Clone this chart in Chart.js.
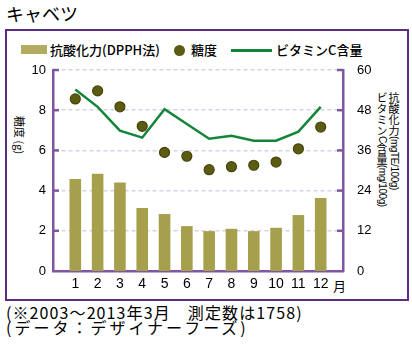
<!DOCTYPE html>
<html><head><meta charset="utf-8">
<script src="https://cdn.jsdelivr.net/npm/chart.js@4"></script>
<style>
html,body{margin:0;padding:0;background:#fff;}
#wrap{position:relative;width:412px;height:350px;overflow:hidden;font-family:"Noto Sans CJK JP","Noto Sans",sans-serif;color:#000;}
.abs{position:absolute;white-space:nowrap;}
#box{left:5px;top:29px;width:404px;height:272px;box-sizing:border-box;border:2px solid #5b2d82;}
#c{position:absolute;left:0;top:0;}
.vt{writing-mode:vertical-rl;text-orientation:mixed;font-size:11px;line-height:11px;}
.nar{font-family:"Liberation Sans Narrow","Liberation Sans",sans-serif;font-size:10px;letter-spacing:-0.4px;}
.lg{font-size:13px;line-height:18px;font-weight:500;}
.fn{font-size:16px;line-height:15px;}
</style></head>
<body><div id="wrap">
<div class="abs" style="left:6px;top:0px;font-size:18px;line-height:26px;">キャベツ</div>
<div id="box" class="abs"></div>
<div class="abs" style="left:21px;top:45px;width:26px;height:9px;background:#b3ab62;"></div>
<div class="abs lg" style="left:50px;top:41px;">抗酸化力(DPPH法)</div>
<div class="abs" style="left:174px;top:45px;width:11px;height:11px;border-radius:50%;background:#5c5b14;"></div>
<div class="abs lg" style="left:191px;top:41px;">糖度</div>
<div class="abs" style="left:231px;top:49px;width:41px;height:3px;background:#13853a;"></div>
<div class="abs lg" style="left:276px;top:41px;">ビタミンC含量</div>
<div class="abs" style="left:14px;top:116px;font-size:11px;line-height:11px;writing-mode:vertical-rl;text-orientation:sideways;">糖度 (g)</div>
<div class="abs vt" style="left:388px;top:92px;">抗酸化力<span class="nar">(mgTE/100g)</span></div>
<div class="abs vt" style="left:376px;top:92px;">ビタミン<span class="nar">C</span>含量<span class="nar">(mg/100g)</span></div>
<div class="abs" style="left:333px;top:278px;font-size:13px;line-height:16px;">月</div>
<div class="abs fn" style="left:6px;top:305px;letter-spacing:1.1px;">(※2003～2013年3月　測定数は1758)</div>
<div class="abs fn" style="left:6px;top:320px;letter-spacing:3px;">(データ：デザイナーフーズ)</div>
<canvas id="c" width="412" height="350"></canvas>
</div>
<script>
const months = ['1','2','3','4','5','6','7','8','9','10','11','12'];
const antioxidant = [27.5, 29.0, 26.4, 18.8, 17.0, 13.4, 11.9, 12.6, 11.9, 12.9, 16.7, 21.8];
const sugar = [8.56, 8.96, 8.17, 7.2, 5.9, 5.71, 5.04, 5.19, 5.26, 5.42, 6.08, 7.16];
const vitaminC = [54.2, 49.0, 41.9, 39.8, 48.3, 43.9, 39.5, 40.4, 38.9, 38.9, 41.6, 49.0];
const sugarAxis = {min: 0, max: 10, step: 2};
const rightAxis = {min: 0, max: 60, step: 12};

const labels = [''].concat(months, ['']);
const pad = arr => [null].concat(arr, [null]);
const AXIS = '#7e57a0';

const innerTicks = {
  id: 'innerTicks',
  afterDraw(chart) {
    const ctx = chart.ctx, a = chart.chartArea;
    const y = chart.scales.y, y2 = chart.scales.y2;
    ctx.save();
    ctx.strokeStyle = AXIS; ctx.lineWidth = 2.5;
    y.ticks.forEach(t => {
      if (t.value === 0) return;
      const p = y.getPixelForValue(t.value);
      ctx.beginPath(); ctx.moveTo(a.left, p); ctx.lineTo(a.left + 6, p); ctx.stroke();
    });
    y2.ticks.forEach(t => {
      if (t.value === 0) return;
      const p = y2.getPixelForValue(t.value);
      ctx.beginPath(); ctx.moveTo(a.right - 6, p); ctx.lineTo(a.right, p); ctx.stroke();
    });
    ctx.restore();
  }
};

new Chart(document.getElementById('c'), {
  data: {
    labels: labels,
    datasets: [
      {type: 'line', label: '糖度', data: pad(sugar), yAxisID: 'y', showLine: false,
       pointRadius: 5, pointBackgroundColor: '#5c5b14', pointBorderColor: '#464508', pointBorderWidth: 1.2, order: 1},
      {type: 'line', label: 'ビタミンC含量', data: pad(vitaminC), yAxisID: 'y2', borderColor: '#13853a',
       borderWidth: 2.5, pointRadius: 0, tension: 0, fill: false, order: 2},
      {type: 'bar', label: '抗酸化力(DPPH法)', data: pad(antioxidant), yAxisID: 'y2', backgroundColor: '#a69f4b',
       barPercentage: 0.52, categoryPercentage: 1, order: 3}
    ]
  },
  options: {
    responsive: false, animation: false,
    layout: {padding: {left: 0, right: 0, top: 70, bottom: 0}},
    plugins: {legend: {display: false}, tooltip: {enabled: false}},
    scales: {
      x: {
        type: 'category', offset: false,
        grid: {display: false, drawTicks: false},
        border: {display: true, color: AXIS, width: 2.5},
        ticks: {autoSkip: false, maxRotation: 0, padding: 5, color: '#000',
                font: {family: "'Liberation Sans Narrow','Liberation Sans',sans-serif", size: 14}},
        afterFit(s) { s.height = 79; }
      },
      y: {
        position: 'left', min: sugarAxis.min, max: sugarAxis.max,
        grid: {color: '#dacfe7', lineWidth: 1.5, drawTicks: false},
        border: {display: true, color: AXIS, width: 2.5, dash: [4, 3]},
        ticks: {stepSize: sugarAxis.step, padding: 7, color: '#000',
                font: {family: "'Liberation Sans',sans-serif", size: 13}},
        afterFit(s) { s.width = 53; }
      },
      y2: {
        position: 'right', min: rightAxis.min, max: rightAxis.max,
        grid: {display: false, drawTicks: false},
        border: {display: true, color: AXIS, width: 2.5},
        ticks: {stepSize: rightAxis.step, padding: 14, color: '#000',
                font: {family: "'Liberation Sans',sans-serif", size: 13}},
        afterFit(s) { s.width = 69; }
      }
    }
  },
  plugins: [innerTicks]
});
</script>
</body></html>
